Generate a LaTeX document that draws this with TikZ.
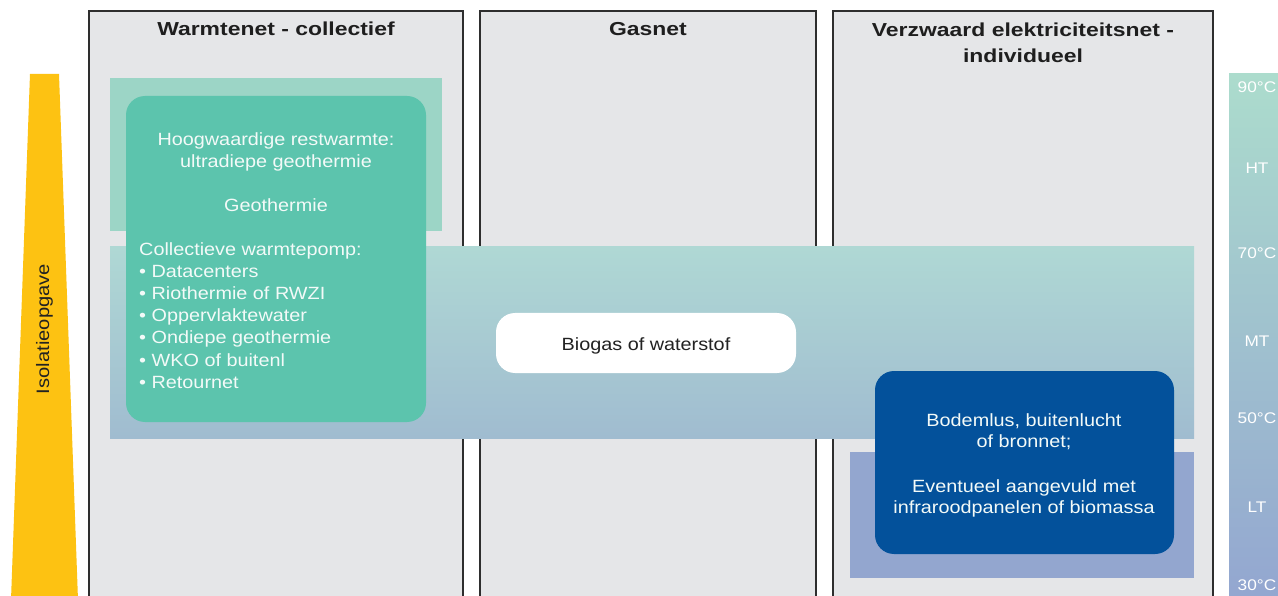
\documentclass[tikz,border=0pt]{standalone}
\usepackage{fontspec}
\setmainfont[FakeStretch=1.12]{Liberation Sans}
\newfontfamily\titlefont[FakeStretch=1.22]{Liberation Sans}
\definecolor{colfill}{HTML}{E5E6E8}
\definecolor{bordergray}{HTML}{2E2E2E}
\definecolor{titlegray}{HTML}{1E1E1E}
\definecolor{htband}{HTML}{9CD5C6}
\definecolor{greenbox}{HTML}{5CC4AD}
\definecolor{mttop}{HTML}{AFD8D4}
\definecolor{mtbot}{HTML}{A0BCD0}
\definecolor{ltband}{HTML}{93A6CF}
\definecolor{bluebox}{HTML}{03519B}
\definecolor{isoyellow}{HTML}{FDC212}
\definecolor{scaletop}{HTML}{ACDCCD}
\definecolor{scalebot}{HTML}{93A6D0}
\definecolor{softwhite}{HTML}{F3FAF8}
\definecolor{darktext}{HTML}{222222}
\begin{document}
\begin{tikzpicture}[x=1pt,y=-1pt,
  colfillstyle/.style={fill=colfill},
  colborder/.style={draw=bordergray,line width=2pt},
  titletext/.style={font=\titlefont\bfseries\fontsize{18.8}{27}\selectfont,text=titlegray,anchor=base,inner sep=0pt},
  bodytext/.style={font=\fontsize{17.7}{22}\selectfont,inner sep=0pt},
  greentext/.style={bodytext,text=softwhite},
  scalelbl/.style={font=\fontsize{15.4}{18}\selectfont,text=white,anchor=base,inner sep=0pt},
  roundbox/.style={rounded corners=19pt}
]
\useasboundingbox (0,0) rectangle (1278,596);
\fill[white] (0,0) rectangle (1278,596);

% columns
\fill[colfillstyle] (89,11) rectangle (463,600);
\fill[colfillstyle] (480,11) rectangle (816,600);
\fill[colfillstyle] (833,11) rectangle (1213,600);
\draw[colborder] (89,600) -- (89,11) -- (463,11) -- (463,600);
\draw[colborder] (480,600) -- (480,11) -- (816,11) -- (816,600);
\draw[colborder] (833,600) -- (833,11) -- (1213,11) -- (1213,600);

\node[titletext] (t1) at (276,36) {Warmtenet - collectief};
\node[titletext] (t2) at (648,36) {Gasnet};
\node[titletext] (t3a) at (1023,37) {Verzwaard elektriciteitsnet -};
\node[titletext] (t3b) at (1023,63) {individueel};

% temperature bands
\fill[htband] (110,78) rectangle (442,231);
\shade[top color=mttop,bottom color=mtbot] (110,247) rectangle (1194,438);
\fill[ltband] (850,452) rectangle (1194,578);

% isolation wedge
\fill[isoyellow] (30,74) -- (59,74) -- (78,600) -- (11,600) -- cycle;
\node[bodytext,text=darktext,rotate=90,anchor=base,font=\fontsize{18}{20}\selectfont] (iso) at (49,329) {Isolatieopgave};

% scale bar
\shade[top color=scaletop,bottom color=scalebot] (1229,74) rectangle (1280,600);
\node[scalelbl] (s90) at (1257,92.5) {90°C};
\node[scalelbl] (sht) at (1257,173.5) {HT};
\node[scalelbl] (s70) at (1257,258.5) {70°C};
\node[scalelbl] (smt) at (1257,346.5) {MT};
\node[scalelbl] (s50) at (1257,423.5) {50°C};
\node[scalelbl] (slt) at (1257,512.5) {LT};
\node[scalelbl] (s30) at (1257,590.5) {30°C};

% green box
\fill[greenbox,roundbox] (126,96) rectangle (426,422);
\node[greentext,anchor=base] (g1) at (276,146) {Hoogwaardige restwarmte:};
\node[greentext,anchor=base] (g2) at (276,168) {ultradiepe geothermie};
\node[greentext,anchor=base] (g3) at (276,212) {Geothermie};
\node[greentext,anchor=base west] (c0) at (139,256) {Collectieve warmtepomp:};
\node[greentext,anchor=base west] (c1) at (139,278) {• Datacenters};
\node[greentext,anchor=base west] (c2) at (139,300) {• Riothermie of RWZI};
\node[greentext,anchor=base west] (c3) at (139,322) {• Oppervlaktewater};
\node[greentext,anchor=base west] (c4) at (139,344) {• Ondiepe geothermie};
\node[greentext,anchor=base west] (c5) at (139,366) {• WKO of buitenl};
\node[greentext,anchor=base west] (c6) at (139,388) {• Retournet};

% white box
\fill[white,roundbox] (496,313) rectangle (796,373);
\node[bodytext,text=darktext,anchor=base] (bio) at (646,350) {Biogas of waterstof};

% blue box
\fill[bluebox,roundbox] (875,371) rectangle (1174,554);
\node[greentext,anchor=base] (b1) at (1024,426) {Bodemlus, buitenlucht};
\node[greentext,anchor=base] (b2) at (1024,447) {of bronnet;};
\node[greentext,anchor=base] (b3) at (1024,492) {Eventueel aangevuld met};
\node[greentext,anchor=base] (b4) at (1024,513) {infraroodpanelen of biomassa};
\end{tikzpicture}
\end{document}
